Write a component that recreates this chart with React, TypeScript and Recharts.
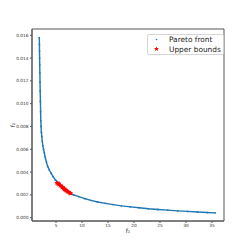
import React from "react"
import { ScatterChart, Scatter, XAxis, YAxis, ZAxis, Legend, ReferenceArea } from "recharts"

// Pareto front
const paretoF1 = [
  1.79, 1.81, 1.83, 1.85, 1.87, 1.9, 1.93, 1.96, 2.0, 2.04, 2.08, 2.13, 2.19, 2.27, 2.36, 2.47,
  2.6, 2.75, 2.93, 3.15, 3.4, 3.7, 4.05, 4.45, 4.9, 5.4, 6.0, 6.7, 7.5, 8.4, 9.4, 10.5, 11.7,
  13.0, 14.5, 16.0, 17.6, 19.3, 21.0, 22.8, 24.6, 26.5, 28.4, 30.3, 32.2, 34.1, 35.6,
]
const paretoF2 = [
  0.0158, 0.0152, 0.0146, 0.014, 0.0134, 0.0127, 0.0119, 0.0111, 0.0102, 0.0093, 0.0085, 0.008,
  0.0075, 0.0071, 0.0067, 0.0063, 0.006, 0.0057, 0.0053, 0.0049, 0.0045, 0.0042, 0.0039, 0.0036,
  0.0033, 0.0031, 0.0028, 0.0025, 0.0022, 0.002, 0.00185, 0.00168, 0.00152, 0.00138, 0.00126,
  0.00115, 0.00104, 0.00095, 0.00087, 0.00078, 0.00072, 0.00066, 0.0006, 0.00055, 0.0005,
  0.00045, 0.00042,
]

// upper bounds (red stars)
const boundF1 = [
  5.15, 5.3, 5.5, 5.6, 5.8, 5.9, 6.05, 6.2, 6.3, 6.4, 6.55, 6.6, 6.75, 6.85, 6.95, 7.05, 7.2,
  7.3, 7.45, 7.6, 7.75, 7.85,
]
const boundF2 = [
  0.00305, 0.00298, 0.0029, 0.003, 0.0028, 0.00284, 0.00272, 0.00266, 0.0027, 0.00258, 0.00255,
  0.00248, 0.00246, 0.0024, 0.00244, 0.00234, 0.0023, 0.00226, 0.00224, 0.00218, 0.00216,
  0.00212,
]

const xTicks = [5, 10, 15, 20, 25, 30, 35]
const yTicks = [0, 0.002, 0.004, 0.006, 0.008, 0.01, 0.012, 0.014, 0.016]

const pareto = paretoF1.map((x, i) => ({ x, y: paretoF2[i] }))
const bounds = boundF1.map((x, i) => ({ x, y: boundF2[i] }))

const BLUE = "#1f77b4"
const FONT = "DejaVu Sans, sans-serif"
const X_DOMAIN = [0.385, 37.31]
const Y_DOMAIN = [-0.00029, 0.01655]

const Dot = (props: any) => <circle cx={props.cx} cy={props.cy} r={0.9} fill={BLUE} />

const Star = (props: any) => {
  const { cx, cy } = props
  const pts: string[] = []
  for (let i = 0; i < 10; i++) {
    const r = i % 2 === 0 ? 2.6 : 1.1
    const a = (Math.PI / 5) * i - Math.PI / 2
    pts.push(`${cx + r * Math.cos(a)},${cy + r * Math.sin(a)}`)
  }
  return <polygon points={pts.join(" ")} fill="red" />
}

const LegendBox = () => (
  <svg width={78} height={22} style={{ display: "block" }}>
    <rect x={0.5} y={0.5} width={76} height={20} fill="white" stroke="#ccc" strokeWidth={0.8} rx={1.5} />
    <circle cx={9.5} cy={5.5} r={0.8} fill={BLUE} />
    <text x={22} y={8} fontSize={7.4} fontFamily={FONT} fill="#222">Pareto front</text>
    <Star cx={9.5} cy={15} />
    <text x={22} y={17.6} fontSize={7.4} fontFamily={FONT} fill="#222">Upper bounds</text>
  </svg>
)

// axis titles drawn from the viewBox recharts hands the label
const XTitle = (props: any) => {
  const { x, y, width } = props.viewBox
  return (
    <text x={x + width / 2} y={y + 12} textAnchor="middle" fontSize={6} fontFamily={FONT} fill="#333">
      f₁
    </text>
  )
}
const YTitle = (props: any) => {
  const { x, y, height } = props.viewBox
  const cx = x + 15
  const cy = y + height / 2
  return (
    <text x={cx} y={cy} transform={`rotate(-90 ${cx} ${cy})`} textAnchor="middle" fontSize={6} fontFamily={FONT} fill="#333">
      f₂
    </text>
  )
}

export default function App() {
  return (
    <div style={{ position: "absolute", left: 0, top: 0, background: "white" }}>
      <ScatterChart width={249} height={249} margin={{ top: 29, right: 25, left: 0, bottom: 0 }}>
        <XAxis
          type="number"
          dataKey="x"
          domain={X_DOMAIN}
          ticks={xTicks}
          allowDataOverflow
          height={28}
          tickSize={2}
          tickMargin={1}
          stroke="#555"
          tick={{ fontSize: 4.3, fontFamily: FONT, fill: "#333" }}
          label={<XTitle />}
        />
        <YAxis
          type="number"
          dataKey="y"
          domain={Y_DOMAIN}
          ticks={yTicks}
          allowDataOverflow
          width={32}
          tickSize={2}
          tickMargin={1.5}
          stroke="#555"
          tickFormatter={(v: number) => v.toFixed(3)}
          tick={{ fontSize: 4.3, fontFamily: FONT, fill: "#333" }}
          label={<YTitle />}
        />
        <ZAxis range={[10, 10]} />
        <ReferenceArea
          x1={X_DOMAIN[0]}
          x2={X_DOMAIN[1]}
          y1={Y_DOMAIN[0]}
          y2={Y_DOMAIN[1]}
          fill="none"
          fillOpacity={0}
          stroke="#555"
          strokeWidth={1}
          ifOverflow="visible"
        />
        <Legend
          layout="horizontal"
          verticalAlign="middle"
          wrapperStyle={{ left: 147, top: 34, width: 78 }}
          content={() => <LegendBox />}
        />
        <Scatter
          name="Pareto front"
          data={pareto}
          line={{ stroke: BLUE, strokeWidth: 1.4 }}
          shape={Dot}
          isAnimationActive={false}
        />
        <Scatter name="Upper bounds" data={bounds} shape={Star} isAnimationActive={false} />
      </ScatterChart>
    </div>
  )
}
